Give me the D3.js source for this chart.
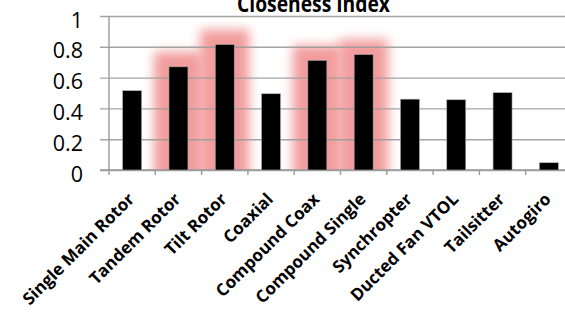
<!DOCTYPE html>
<html>
<head>
<meta charset="utf-8">
<script src="https://cdn.jsdelivr.net/npm/d3@7"></script>
<style>
html,body{margin:0;padding:0;background:#fff;overflow:hidden;}
svg{display:block;}
</style>
</head>
<body>
<svg id="chart" width="565" height="312"></svg>
<script>
const categories = ["Single Main Rotor","Tandem Rotor","Tilt Rotor","Coaxial","Compound Coax","Compound Single","Synchropter","Ducted Fan VTOL","Tailsitter","Autogiro"];
const values = [0.515, 0.67, 0.815, 0.495, 0.712, 0.75, 0.46, 0.456, 0.502, 0.047];
const highlighted = ["Tandem Rotor","Tilt Rotor","Compound Coax","Compound Single"];
const yTicks = [0, 0.2, 0.4, 0.6, 0.8, 1];
const yTickLabels = ["0","0.2","0.4","0.6","0.8","1"];
const title = "Closeness Index";

const svg = d3.select("#chart");
const pLeft = 109, pRight = 572, pTop = 16, pBottom = 170;

const x = d3.scaleBand().domain(categories).range([pLeft, pRight]).paddingInner(0.59).paddingOuter(0.295);
const y = d3.scaleLinear().domain([0, 1]).range([pBottom, pTop]);

const defs = svg.append("defs");
const glow = defs.append("filter").attr("id","glow").attr("x","-300%").attr("y","-50%").attr("width","700%").attr("height","200%");
glow.append("feMorphology").attr("operator","dilate").attr("radius","15").attr("in","SourceGraphic").attr("result","d");
glow.append("feGaussianBlur").attr("in","d").attr("stdDeviation","5.5");
defs.append("clipPath").attr("id","plotclip").append("rect").attr("x",0).attr("y",0).attr("width",565).attr("height",pBottom+1);

// glow
svg.append("g").attr("clip-path","url(#plotclip)")
  .selectAll("rect").data(categories.filter(c => highlighted.includes(c)))
  .join("rect")
  .attr("x", c => x(c))
  .attr("y", c => y(values[categories.indexOf(c)]))
  .attr("width", x.bandwidth())
  .attr("height", c => pBottom - y(values[categories.indexOf(c)]))
  .attr("fill","#f29c9c")
  .attr("filter","url(#glow)");

// gridlines
const yAxis = d3.axisLeft(y).tickValues(yTicks).tickSize(-(565 - pLeft)).tickFormat((d,i) => yTickLabels[i]).tickPadding(0);
const gy = svg.append("g").attr("transform", `translate(${pLeft},0)`).call(yAxis);
gy.select(".domain").remove();
gy.selectAll(".tick line").attr("stroke","#9a9a9a").attr("stroke-width",1.4).attr("x1",-9).attr("stroke-opacity",0.9);
gy.selectAll(".tick text").remove();

// y labels
svg.append("g").selectAll("text").data(yTicks).join("text")
  .attr("x", 83).attr("y", d => y(d) + 3)
  .attr("text-anchor","end").attr("dominant-baseline","central")
  .attr("font-family","'Open Sans', sans-serif").attr("font-size",21.5)
  .attr("fill","#000")
  .text((d,i) => yTickLabels[i]);

// y axis line
svg.append("line").attr("x1",pLeft).attr("x2",pLeft).attr("y1",pTop).attr("y2",pBottom)
  .attr("stroke","#9a9a9a").attr("stroke-width",1.4);
// x axis line
svg.append("line").attr("x1",pLeft - 9).attr("x2",565).attr("y1",pBottom).attr("y2",pBottom)
  .attr("stroke","#9a9a9a").attr("stroke-width",1.6);
// x ticks
svg.append("g").selectAll("line").data(d3.range(categories.length + 1)).join("line")
  .attr("x1", i => pLeft + i * x.step()).attr("x2", i => pLeft + i * x.step())
  .attr("y1", pBottom).attr("y2", pBottom + 5)
  .attr("stroke","#9a9a9a").attr("stroke-width",1.4);

// bars
svg.append("g").selectAll("rect").data(categories).join("rect")
  .attr("x", c => x(c))
  .attr("y", (c,i) => y(values[i]))
  .attr("width", x.bandwidth())
  .attr("height", (c,i) => pBottom - y(values[i]))
  .attr("fill","#000")
  .attr("stroke","#aaa").attr("stroke-width",0.6);

// x labels
svg.append("g").selectAll("text").data(categories).join("text")
  .attr("transform", c => `translate(${x(c) + x.bandwidth()/2 - 1},${pBottom + 26}) rotate(-45)`)
  .attr("text-anchor","end").attr("dy","0.35em")
  .attr("font-family","'Open Sans', sans-serif").attr("font-weight",700).attr("font-size",17)
  .attr("fill","#000")
  .text(c => c);

// title
svg.append("text").attr("x",313.5).attr("y",12)
  .attr("text-anchor","middle")
  .attr("font-family","'Open Sans', sans-serif").attr("font-weight",700).attr("font-size",24)
  .attr("textLength",153).attr("lengthAdjust","spacingAndGlyphs")
  .text(title);
</script>
</body>
</html>
